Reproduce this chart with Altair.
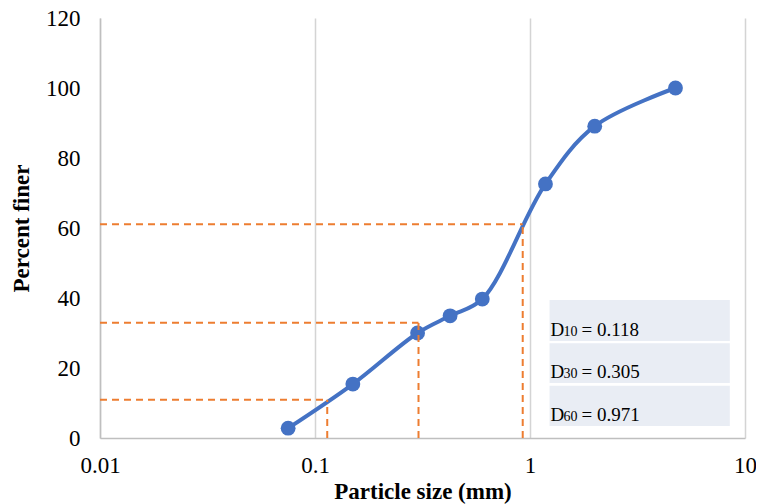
import altair as alt
import pandas as pd

# Sieve data
sizes = [0.075, 0.15, 0.30, 0.425, 0.60, 1.18, 2.0, 4.75]
finer = [2.8, 15.4, 30.0, 34.9, 39.7, 72.6, 89.1, 100.0]

# Dashed D-lines (as drawn)
d_x = [0.114, 0.303, 0.925]
d_y = [10.9, 32.9, 61.1]

# Annotation table
box_x0 = 1.233
box_x1 = 8.5
row_top = [39.4, 27.1, 14.9]
row_bot = [27.7, 15.7, 3.4]
row_text_y = [29.1, 17.1, 4.9]
row_sub = ["10", "30", "60"]
row_val = ["= 0.118", "= 0.305", "= 0.971"]

x_ticks = [0.01, 0.1, 1, 10]
y_ticks = [0, 20, 40, 60, 80, 100, 120]

FONT = "Liberation Serif"
BLUE = "#4472C4"
ORANGE = "#ED7D31"

xs = alt.Scale(type="log", domain=[0.01, 10])
ys = alt.Scale(domain=[0, 120])

df = pd.DataFrame({"size": sizes, "finer": finer})

xaxis = alt.Axis(values=x_ticks, format="~g", title="Particle size (mm)",
                 grid=True, gridColor="#D4D4D4", gridWidth=1.5, ticks=False,
                 domainColor="#BFBFBF", domainWidth=1.5,
                 labelFont=FONT, labelFontSize=23, labelColor="#000",
                 labelPadding=16, labelFlush=False,
                 titleFont=FONT, titleFontSize=23, titleFontWeight="bold",
                 titleColor="#000", titleY=60, titleBaseline="alphabetic")
yaxis = alt.Axis(values=y_ticks, title="Percent finer", grid=False, ticks=False,
                 domainColor="#BFBFBF", domainWidth=1.5,
                 labelFont=FONT, labelFontSize=23, labelColor="#000",
                 labelPadding=20,
                 titleFont=FONT, titleFontSize=23, titleFontWeight="bold",
                 titleColor="#000", titleAngle=-90, titleX=-79, titleY=210,
                 titleAlign="center", titleBaseline="middle")

base = alt.Chart(df)
line = base.mark_line(color=BLUE, strokeWidth=4, interpolate="catmull-rom").encode(
    x=alt.X("size:Q", scale=xs, axis=xaxis),
    y=alt.Y("finer:Q", scale=ys, axis=yaxis),
)
pts = base.mark_circle(color=BLUE, size=220, opacity=1).encode(
    x=alt.X("size:Q", scale=xs), y=alt.Y("finer:Q", scale=ys))

dd = pd.DataFrame({"x0": [0.01] * 3, "xv": d_x, "y0": [0] * 3, "yv": d_y})
hdash = alt.Chart(dd).mark_rule(color=ORANGE, strokeWidth=2, strokeDash=[7, 5]).encode(
    x=alt.X("x0:Q", scale=xs), x2="xv:Q", y=alt.Y("yv:Q", scale=ys))
vdash = alt.Chart(dd).mark_rule(color=ORANGE, strokeWidth=2, strokeDash=[7, 5]).encode(
    x=alt.X("xv:Q", scale=xs), y=alt.Y("y0:Q", scale=ys), y2="yv:Q")

tb = pd.DataFrame({"x0": [box_x0] * 3, "x1": [box_x1] * 3, "top": row_top,
                   "bot": row_bot, "ty": row_text_y, "sub": row_sub, "val": row_val,
                   "D": ["D"] * 3})
boxes = alt.Chart(tb).mark_rect(color="#E9EDF4").encode(
    x=alt.X("x0:Q", scale=xs), x2="x1:Q", y=alt.Y("top:Q", scale=ys), y2="bot:Q")
tD = alt.Chart(tb).mark_text(font=FONT, fontSize=19, align="left", baseline="alphabetic",
                             color="#000", dx=1).encode(
    x=alt.X("x0:Q", scale=xs), y=alt.Y("ty:Q", scale=ys), text="D:N")
tS = alt.Chart(tb).mark_text(font=FONT, fontSize=14, align="left", baseline="alphabetic",
                             color="#000", dx=14).encode(
    x=alt.X("x0:Q", scale=xs), y=alt.Y("ty:Q", scale=ys), text="sub:N")
tV = alt.Chart(tb).mark_text(font=FONT, fontSize=19, align="left", baseline="alphabetic",
                             color="#000", dx=32).encode(
    x=alt.X("x0:Q", scale=xs), y=alt.Y("ty:Q", scale=ys), text="val:N")

chart = alt.layer(line, pts, hdash, vdash, boxes, tD, tS, tV).properties(
    width=645, height=420,
    autosize=alt.AutoSizeParams(type="none"),
    padding={"left": 92, "top": 10, "right": 11, "bottom": 66},
).configure_view(stroke=None)

chart.save("out.html", embed_options={"renderer": "svg", "actions": False})
